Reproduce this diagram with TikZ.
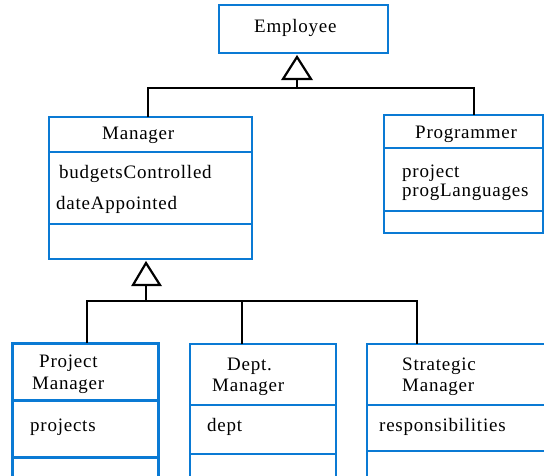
\documentclass[tikz,border=0pt]{standalone}
\usepackage{fontspec}
\setmainfont{Liberation Serif}[LetterSpace=4]
\begin{document}
\begin{tikzpicture}[x=1pt,y=-1pt,
  classbox/.style={draw=umlblue, line width=2.2pt, rectangle, anchor=north west, inner sep=0pt, outer sep=0pt},
  divider/.style={draw=umlblue, line width=2.2pt},
  conn/.style={draw=black, line width=2.2pt},
  genhead/.style={draw=black, line width=2.2pt, fill=white, line join=miter},
  lbl/.style={anchor=base west, inner sep=0pt, font=\fontsize{19}{22}\selectfont}]
\definecolor{umlblue}{RGB}{10,122,212}
\useasboundingbox[clip] (0,0) rectangle (544,475);
\fill[white] (0,0) rectangle (544,475);

% Employee
\node[classbox, minimum width=169pt, minimum height=48pt] (emp) at (219,5) {};
\node[lbl] (empT) at (254,32) {Employee};

% Manager
\node[classbox, minimum width=203pt, minimum height=142pt] (mgr) at (49,117) {};
\draw[divider] (mgr.west |- 0,152) -- (mgr.east |- 0,152);
\draw[divider] (mgr.west |- 0,224) -- (mgr.east |- 0,224);
\node[lbl] (mgrT) at (102,139) {Manager};
\node[lbl] (mgrA1) at (59,178) {budgetsControlled};
\node[lbl] (mgrA2) at (56,209) {dateAppointed};

% Programmer
\node[classbox, minimum width=159pt, minimum height=118pt] (prog) at (384,115) {};
\draw[divider] (prog.west |- 0,148) -- (prog.east |- 0,148);
\draw[divider] (prog.west |- 0,211) -- (prog.east |- 0,211);
\node[lbl] (progT) at (415,138) {Programmer};
\node[lbl] (progA1) at (402,177) {project};
\node[lbl] (progA2) at (402,196) {progLanguages};

% Project Manager
\node[classbox, line width=3pt, minimum width=146pt, minimum height=150pt] (pm) at (12,343) {};
\draw[divider, line width=3pt] (pm.west |- 0,400) -- (pm.east |- 0,400);
\draw[divider, line width=3pt] (pm.west |- 0,457) -- (pm.east |- 0,457);
\node[lbl] (pmT1) at (39,367) {Project};
\node[lbl] (pmT2) at (32,389) {Manager};
\node[lbl] (pmA1) at (30,431) {projects};

% Dept. Manager
\node[classbox, minimum width=146pt, minimum height=150pt] (dm) at (190,344) {};
\draw[divider] (dm.west |- 0,405) -- (dm.east |- 0,405);
\draw[divider] (dm.west |- 0,454) -- (dm.east |- 0,454);
\node[lbl] (dmT1) at (227,370) {Dept.};
\node[lbl] (dmT2) at (212,391) {Manager};
\node[lbl] (dmA1) at (207,431) {dept};

% Strategic Manager
\node[classbox, minimum width=200pt, minimum height=150pt] (sm) at (367,344) {};
\draw[divider] (sm.west |- 0,405) -- (sm.east |- 0,405);
\draw[divider] (sm.west |- 0,451) -- (sm.east |- 0,451);
\node[lbl] (smT1) at (402,370) {Strategic};
\node[lbl] (smT2) at (402,391) {Manager};
\node[lbl] (smA1) at (379,431) {responsibilities};

% Generalisation: Manager, Programmer -> Employee
\coordinate (tipA) at (297,57);
\coordinate (baseA) at (297,79);
\coordinate (busA) at (297,88);
\coordinate (mgrStem) at (148,117);
\coordinate (progStem) at (474,115);
\draw[conn] (mgrStem) |- (busA) -| (progStem);
\draw[conn] (busA) -- (baseA);
\draw[genhead] (tipA) -- (baseA -| 283,0) -- (baseA -| 311,0) -- cycle;

% Generalisation: specialised managers -> Manager
\coordinate (tipB) at (146,263);
\coordinate (baseB) at (146,285);
\coordinate (busB) at (146,301);
\coordinate (pmStem) at (87,343);
\coordinate (dmStem) at (242,344);
\coordinate (smStem) at (417,344);
\draw[conn] (pmStem) |- (busB);
\draw[conn] (busB -| pmStem) -- (busB -| smStem) -- (smStem);
\draw[conn] (busB -| dmStem) -- (dmStem);
\draw[conn] (busB) -- (baseB);
\draw[genhead] (tipB) -- (baseB -| 133,0) -- (baseB -| 160,0) -- cycle;
\end{tikzpicture}
\end{document}
